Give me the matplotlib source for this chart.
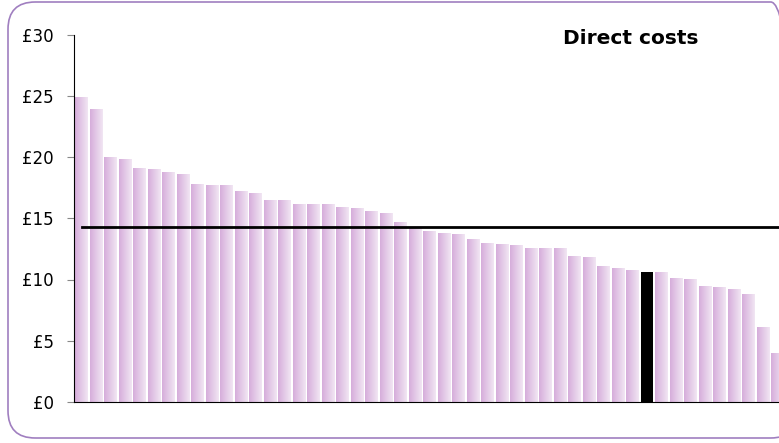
import numpy as np
import matplotlib.pyplot as plt
from matplotlib.patches import FancyBboxPatch
from matplotlib.colors import LinearSegmentedColormap

# Biaya langsung per unit (urut menurun), satu unit disorot
costs = [24.9, 23.9, 20.0, 19.8, 19.1, 19.0, 18.8, 18.6, 17.8, 17.7,
         17.7, 17.2, 17.1, 16.5, 16.5, 16.2, 16.2, 16.2, 15.9, 15.8,
         15.6, 15.4, 14.7, 14.3, 14.0, 13.8, 13.7, 13.3, 13.0, 12.9,
         12.8, 12.6, 12.6, 12.6, 11.9, 11.85, 11.1, 10.9, 10.8, 10.6,
         10.6, 10.1, 10.05, 9.5, 9.4, 9.2, 8.8, 6.1, 4.0]
highlight = 39          # indeks bar hitam
average = 14.3          # garis rata-rata
yticks = [0, 5, 10, 15, 20, 25, 30]
ytick_labels = ['£0', '£5', '£10', '£15', '£20', '£25', '£30']
title = 'Direct costs'

W, H = 779, 443
fig = plt.figure(figsize=(W / 100, H / 100), dpi=100)

# Bingkai bulat ungu
frame = FancyBboxPatch((8 / W, 5 / H), 790 / W, 436 / H,
                       boxstyle="round,pad=0,rounding_size=0.035",
                       transform=fig.transFigure, fill=False,
                       edgecolor='#a07fc0', linewidth=1.2,
                       mutation_aspect=W / H)
fig.patches.append(frame)

ax = fig.add_axes([74 / W, (H - 402) / H, (W - 74) / W, 367.5 / H])

x = np.arange(len(costs))
bars = ax.bar(x, costs, width=0.86, color='#dfc0e1', zorder=2)

# Gradien kiri-ke-kanan untuk setiap bar
cmap = LinearSegmentedColormap.from_list('pink', ['#d6addb', '#f1e6f3'])
grad = np.linspace(0, 1, 64).reshape(1, -1)
for i, b in enumerate(bars):
    if i == highlight:
        b.set_facecolor('black')
        continue
    b.set_facecolor('none')
    b.set_edgecolor('none')
    im = ax.imshow(grad, cmap=cmap, aspect='auto', zorder=2,
                   extent=[b.get_x(), b.get_x() + b.get_width(), 0, b.get_height()])
    im.set_clip_path(b)

ax.plot([0, len(costs) - 1], [average, average], color='black', linewidth=2, zorder=3)

ax.set_xlim(-0.52, 48.1)
ax.set_ylim(0, 30)
ax.set_yticks(yticks)
ax.set_yticklabels(ytick_labels, fontsize=12)
ax.set_xticks([])
ax.tick_params(axis='y', length=5, color='#888888', pad=9.5)
ax.spines['top'].set_visible(False)
ax.spines['right'].set_visible(False)
ax.patch.set_alpha(0)

fig.text(631 / W, 1 - 38 / H, title, fontsize=14.5, fontweight='bold',
         ha='center', va='center')

fig.savefig('out.png', dpi=100)
